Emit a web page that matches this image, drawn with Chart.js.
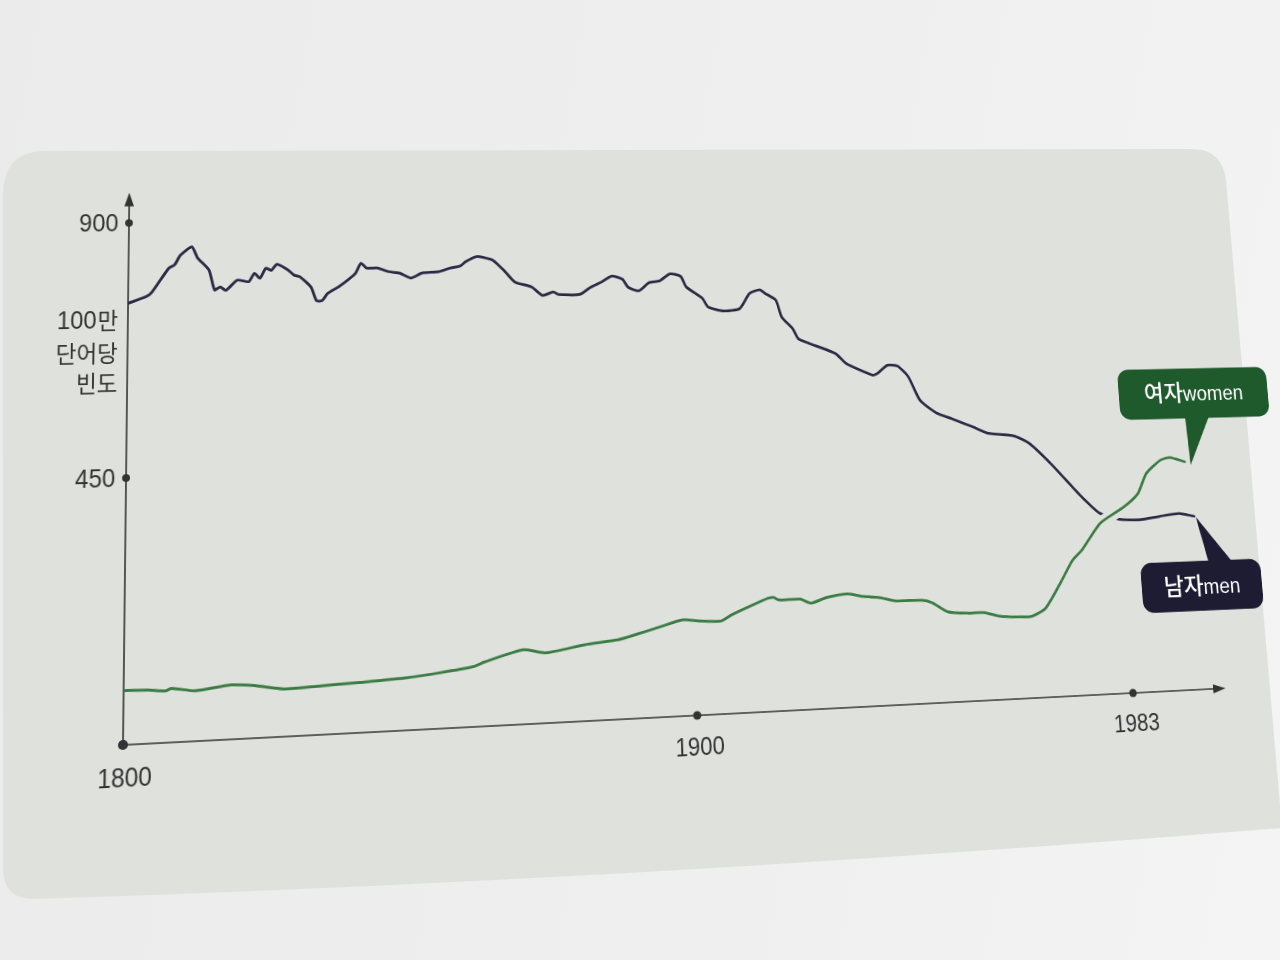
<!DOCTYPE html>
<html><head>
<meta charset="UTF-8">
<title>men / women 빈도</title>
<script src="https://cdn.jsdelivr.net/npm/chart.js"></script>
<style>
    html, body {
        margin: 0;
        width: 1280px;
        height: 960px;
        overflow: hidden;
        background: linear-gradient(100deg, #eaebea 0%, #eeefee 60%, #f3f4f3 100%);
    }
    #page {
        position: absolute;
        left: 0;
        top: 0;
    }
    #chart {
        position: absolute;
        left: 0;
        top: 0;
        width: 1500px;
        height: 960px;
        transform-origin: 0 0;
    }
</style>
</head>
<body>
<svg id="page" width="1280" height="960">
    <path d="M 42 151 L 1192 149 Q 1222 149 1226 180 L 1282 828 Q 640 880 34 899 Q 3 899 3 868 L 3 195 Q 3 153 42 151 Z" fill="#dfe2dc"/>
</svg>
<canvas id="chart" width="1500" height="960"></canvas>

<script>
    // values (frequency per million words)
    const menYears = [1800, 1803, 1804, 1807, 1808, 1809, 1811, 1812, 1814, 1815, 1816, 1817, 1819, 1821, 1822, 1823,
        1824, 1825, 1826, 1828, 1829, 1830, 1832, 1833, 1834, 1835, 1837, 1839, 1840, 1841, 1842, 1844, 1846, 1848,
        1850, 1852, 1855, 1857, 1859, 1860, 1862, 1863, 1865, 1867, 1869, 1872, 1874, 1876, 1877, 1881, 1883, 1885,
        1887, 1889, 1890, 1892, 1894, 1896, 1898, 1900, 1901, 1904, 1905, 1908, 1911, 1913, 1915, 1916, 1918, 1919,
        1921, 1922, 1924, 1929, 1931, 1936, 1937, 1939, 1941, 1943, 1945, 1948, 1951, 1955, 1958, 1963, 1966, 1970,
        1974, 1976, 1979, 1983, 1987, 1991, 1995, 1998];
    const menValues = [756, 767, 774, 818, 824, 841, 856, 836, 814, 778, 783, 777, 795, 792, 807, 798,
        816, 812, 823, 812, 803, 800, 781, 756, 756, 769, 781, 796, 805, 823, 814, 814, 807, 804,
        795, 804, 806, 812, 816, 824, 833, 832, 826, 807, 785, 776, 760, 766, 761, 761, 774, 783,
        794, 788, 773, 766, 781, 784, 797, 792, 772, 750, 734, 726, 730, 758, 765, 758, 745, 713,
        691, 672, 663, 643, 624, 601, 604, 619, 617, 596, 552, 528, 516, 500, 487, 481, 466, 427,
        382, 360, 332, 319, 317, 322, 326, 320];

    const womenYears = [1800, 1804, 1807, 1808, 1812, 1818, 1822, 1827, 1833, 1840, 1848, 1854, 1860, 1862, 1869,
        1873, 1880, 1886, 1889, 1894, 1898, 1901, 1905, 1907, 1911, 1914, 1915, 1916, 1920, 1922, 1925, 1929, 1932,
        1935, 1938, 1943, 1945, 1948, 1952, 1955, 1958, 1964, 1967, 1970, 1973, 1975, 1979, 1984, 1987, 1989, 1992,
        1994, 1997];
    const womenValues = [90, 89, 86, 90, 84, 91, 88, 80, 82, 85, 89, 95, 103, 110, 128,
        121, 132, 138, 145, 158, 168, 165, 163, 173, 189, 200, 201, 196, 196, 188, 197, 202, 196,
        193, 186, 185, 180, 162, 158, 158, 150, 147, 161, 202, 247, 265, 313, 342, 366, 403, 427,
        432, 423];

    const xTicks = [1800, 1900, 1983];
    const yTicks = [450, 900];
    const yTitle = ['100만', '단어당', '빈도'];
    const womenLabel = ['여자', 'women'];
    const menLabel = ['남자', 'men'];

    const panelColor = '#dfe2dc';
    const inkColor = '#333333';
    const menColor = '#2c2944';
    const womenColor = '#3b7b44';

    const menData = menYears.map((yr, i) => ({ x: yr, y: menValues[i] }));
    const womenData = womenYears.map((yr, i) => ({ x: yr, y: womenValues[i] }));
    // light band under the green line where it crosses the dark one
    const bridgeData = womenData.filter(p => p.x >= 1976 && p.x <= 1990);

    // the page is photographed at an angle: map the flat chart onto the photo
    function homography(src, dst) {
        const A = [], b = [];
        for (let i = 0; i < 4; i++) {
            const [x, y] = src[i], [X, Y] = dst[i];
            A.push([x, y, 1, 0, 0, 0, -x * X, -y * X]); b.push(X);
            A.push([0, 0, 0, x, y, 1, -x * Y, -y * Y]); b.push(Y);
        }
        for (let c = 0; c < 8; c++) {
            let p = c;
            for (let r = c + 1; r < 8; r++) if (Math.abs(A[r][c]) > Math.abs(A[p][c])) p = r;
            [A[c], A[p]] = [A[p], A[c]];
            [b[c], b[p]] = [b[p], b[c]];
            for (let r = 0; r < 8; r++) {
                if (r === c) continue;
                const f = A[r][c] / A[c][c];
                for (let k = c; k < 8; k++) A[r][k] -= f * A[c][k];
                b[r] -= f * b[c];
            }
        }
        return b.map((v, i) => v / A[i][i]);
    }
    const h = homography(
        [[123, 745], [1221, 745], [123, 199], [1221, 199]],
        [[123, 745], [1133, 693], [129, 223], [1097, 216]]
    );
    document.getElementById('chart').style.transform =
        `matrix3d(${h[0]},${h[3]},0,${h[6]},${h[1]},${h[4]},0,${h[7]},0,0,1,0,${h[2]},${h[5]},0,1)`;

    function numText(ctx, str, x, y, align) {
        ctx.save();
        ctx.translate(x, y);
        ctx.scale(0.87, 1);
        ctx.font = '28px "Liberation Sans", Arial, sans-serif';
        ctx.textAlign = align;
        ctx.textBaseline = 'middle';
        ctx.fillText(str, 0, 0);
        ctx.restore();
    }

    function korText(ctx, str, x, y) {
        ctx.save();
        ctx.translate(x, y);
        ctx.scale(0.92, 1);
        ctx.font = '25px "Noto Sans CJK KR", sans-serif';
        ctx.textAlign = 'right';
        ctx.textBaseline = 'middle';
        ctx.fillText(str, 0, 0);
        const w = ctx.measureText(str).width * 0.92;
        ctx.restore();
        return w;
    }

    function roundBox(ctx, x0, y0, x1, y1, r) {
        ctx.beginPath();
        ctx.moveTo(x0 + r, y0);
        ctx.arcTo(x1, y0, x1, y1, r);
        ctx.arcTo(x1, y1, x0, y1, r);
        ctx.arcTo(x0, y1, x0, y0, r);
        ctx.arcTo(x0, y0, x1, y0, r);
        ctx.closePath();
        ctx.fill();
    }

    function callout(ctx, box, tip, base, color, label) {
        ctx.fillStyle = color;
        roundBox(ctx, box[0], box[1], box[2], box[3], 13);
        ctx.beginPath();
        ctx.moveTo(base[0], base[2]);
        ctx.lineTo(base[1], base[2]);
        ctx.lineTo(tip[0], tip[1]);
        ctx.closePath();
        ctx.fill();

        ctx.fillStyle = '#ffffff';
        ctx.textBaseline = 'alphabetic';
        ctx.textAlign = 'left';
        const kFont = '500 26px "Noto Sans CJK KR", sans-serif';
        const eFont = '23px "Liberation Sans", Arial, sans-serif';
        ctx.font = kFont;
        const wk = ctx.measureText(label[0]).width;
        ctx.font = eFont;
        const we = ctx.measureText(label[1]).width;
        const sx = (box[0] + box[2]) / 2 - (wk + we) / 2;
        const by = (box[1] + box[3]) / 2 + 9;
        ctx.font = kFont;
        ctx.fillText(label[0], sx, by);
        ctx.font = eFont;
        ctx.fillText(label[1], sx + wk, by);
    }

    const bookAxes = {
        id: 'bookAxes',
        beforeDatasetsDraw(chart) {
            const { ctx, scales: { x, y } } = chart;
            const x0 = x.getPixelForValue(1800);
            const y0 = y.getPixelForValue(0);
            const yTop = y.getPixelForValue(955);
            const xEnd = x.getPixelForValue(2001.5);

            ctx.save();
            ctx.strokeStyle = inkColor;
            ctx.fillStyle = inkColor;
            ctx.lineWidth = 1.6;

            ctx.beginPath();
            ctx.moveTo(x0, y0);
            ctx.lineTo(x0, yTop + 10);
            ctx.moveTo(x0, y0);
            ctx.lineTo(xEnd - 10, y0);
            ctx.stroke();

            ctx.beginPath();
            ctx.moveTo(x0, yTop);
            ctx.lineTo(x0 - 5, yTop + 15);
            ctx.lineTo(x0 + 5, yTop + 15);
            ctx.closePath();
            ctx.fill();
            ctx.beginPath();
            ctx.moveTo(xEnd, y0);
            ctx.lineTo(xEnd - 15, y0 - 5);
            ctx.lineTo(xEnd - 15, y0 + 5);
            ctx.closePath();
            ctx.fill();

            yTicks.forEach(v => {
                const py = y.getPixelForValue(v);
                ctx.beginPath();
                ctx.arc(x0, py, 4, 0, Math.PI * 2);
                ctx.fill();
                numText(ctx, String(v), x0 - 11, py + 1, 'right');
            });
            xTicks.forEach(v => {
                const px = x.getPixelForValue(v);
                ctx.beginPath();
                ctx.arc(px, y0, v === 1800 ? 5 : 4.5, 0, Math.PI * 2);
                ctx.fill();
                numText(ctx, String(v), px + 2, y0 + 34, 'center');
            });

            // y title, three lines
            const titleY = [304, 339, 371];
            yTitle.forEach((line, i) => {
                const m = line.match(/^(\d*)(.*)$/);
                const w = korText(ctx, m[2], x0 - 10, titleY[i]);
                if (m[1]) numText(ctx, m[1], x0 - 11 - w, titleY[i] + 1, 'right');
            });
            ctx.restore();
        },
        afterDraw(chart) {
            const ctx = chart.ctx;
            const w = chart.getDatasetMeta(2).data.at(-1);
            const m = chart.getDatasetMeta(0).data.at(-1);
            ctx.save();
            callout(ctx, [w.x - 74, w.y - 108, w.x + 110, w.y - 50],
                [w.x + 7, w.y + 4], [w.x + 5, w.x + 34, w.y - 51], '#1f5a2d', womenLabel);
            callout(ctx, [m.x - 70, m.y + 51, m.x + 76, m.y + 107],
                [m.x + 2, m.y + 1], [m.x + 13, m.x + 41, m.y + 52], '#1e1c33', menLabel);
            ctx.restore();
        }
    };

    const chart = new Chart(document.getElementById('chart'), {
        type: 'line',
        data: {
            datasets: [
                { data: menData, borderColor: menColor, borderWidth: 3, order: 2 },
                { data: bridgeData, borderColor: panelColor, borderWidth: 14, order: 1 },
                { data: womenData, borderColor: womenColor, borderWidth: 3, order: 0 }
            ]
        },
        options: {
            responsive: false,
            devicePixelRatio: 1,
            animation: false,
            events: [],
            layout: { padding: { left: 123, right: 177, top: 199, bottom: 215 } },
            elements: {
                point: { radius: 0 },
                line: { tension: 0.2, borderCapStyle: 'round', borderJoinStyle: 'round' }
            },
            scales: {
                x: { type: 'linear', min: 1800, max: 2000, display: false },
                y: { type: 'linear', min: 0, max: 900, display: false }
            },
            plugins: {
                legend: { display: false },
                tooltip: { enabled: false }
            }
        },
        plugins: [bookAxes]
    });
</script>
</body>
</html>
